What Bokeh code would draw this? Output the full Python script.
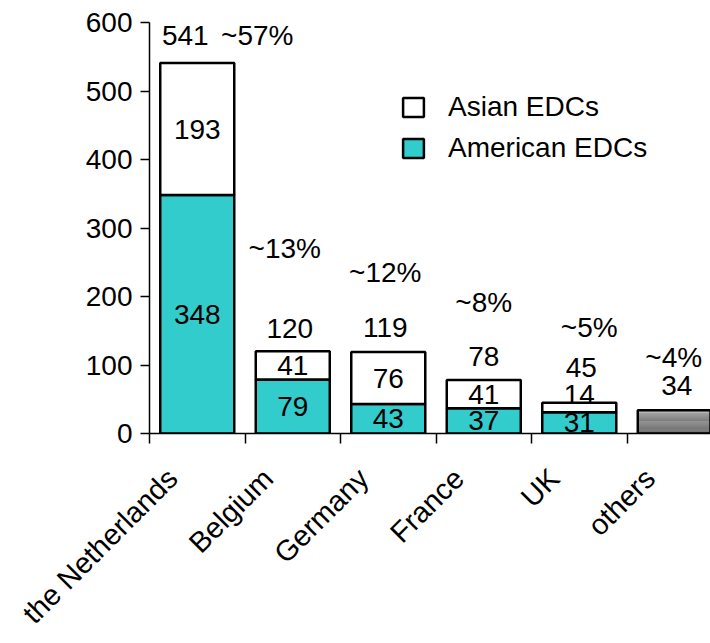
import math
from bokeh.plotting import figure
from bokeh.models import Range1d, FixedTicker, ColumnDataSource, Legend, LegendItem
from bokeh.core.properties import value
from bokeh.embed import file_html
from bokeh.resources import INLINE

# ---- data ----
countries = ["the Netherlands", "Belgium", "Germany", "France", "UK", "others"]
american = [348, 79, 43, 37, 31]
asian = [193, 41, 76, 41, 14]
totals = [541, 120, 119, 78, 45, 34]
shares = ["~57%", "~13%", "~12%", "~8%", "~5%", "~4%"]
y_ticks = [0, 100, 200, 300, 400, 500, 600]

# ---- style constants (pixel offsets for annotations) ----
FONT = "Liberation Sans"
FS = "28px"
XFS = "29px"
TEAL = "#33CCCC"
total_dx = [-12, -3, -3, 0, 2, 2]
total_dy = [-27, -23, -24, -24, -35, -25]
share_dx = [60, -8, -3, 0, 10, -1]
share_dy = [-27, -103, -79, -78, -75, -53]
asian_lbl_dy = [0, 0, 0, 0, -13]
LABEL_SHIFT = 0.26

BAR_W = 0.775
centers = [i + 0.5 for i in range(len(countries))]
bounds = list(range(len(countries) + 1))

p = figure(width=710, height=643, output_backend="svg", toolbar_location=None,
           x_range=Range1d(0, 5.874), y_range=Range1d(0, 600),
           min_border_left=149, min_border_right=0, min_border_top=22,
           min_border_bottom=210)
p.xgrid.visible = False
p.ygrid.visible = False
p.outline_line_color = None
p.background_fill_color = "white"
p.border_fill_color = "white"

n = len(american)
src_am = ColumnDataSource(dict(x=centers[:n], top=american, bottom=[0] * n))
src_as = ColumnDataSource(dict(x=centers[:n],
                               top=[a + b for a, b in zip(american, asian)],
                               bottom=american))
r_am = p.vbar(x="x", top="top", bottom="bottom", width=BAR_W, source=src_am,
              fill_color=TEAL, line_color="black", line_width=2.5)
r_as = p.vbar(x="x", top="top", bottom="bottom", width=BAR_W, source=src_as,
              fill_color="white", line_color="black", line_width=2.5)

# "others" bar with a vertical grey gradient
oth = totals[-1]
ns = 24
gx, gb, gt, gc = [], [], [], []
for k in range(ns):
    f = (k + 0.5) / ns
    c = int(0x40 + (0xb0 - 0x40) * f)
    gx.append(centers[-1]); gb.append(oth * k / ns); gt.append(oth * (k + 1) / ns)
    gc.append("#%02x%02x%02x" % (c, c, c))
p.vbar(x=gx, top=gt, bottom=gb, width=BAR_W, fill_color=gc, line_color=None)
p.vbar(x=[centers[-1]], top=[oth], bottom=[0], width=BAR_W, fill_color=None,
       line_color="black", line_width=2.5)

txt = dict(text_font=value(FONT), text_font_size=FS, text_align="center",
           text_baseline="middle", text_color="black")
# segment labels
p.text(x=centers[:n], y=[a / 2 for a in american], text=[str(a) for a in american], **txt)
p.text(x=centers[:n], y=[a + b / 2 for a, b in zip(american, asian)],
       text=[str(b) for b in asian], y_offset=asian_lbl_dy, **txt)
# totals and shares
p.text(x=centers, y=totals, text=[str(t) for t in totals], x_offset=total_dx,
       y_offset=total_dy, **txt)
p.text(x=centers, y=totals, text=shares, x_offset=share_dx, y_offset=share_dy, **txt)

# axes
yax = p.yaxis[0]
yax.ticker = FixedTicker(ticks=y_ticks)
yax.axis_line_color = "black"
yax.axis_line_width = 1.5
yax.major_tick_line_width = 1.5
yax.major_tick_in = 0
yax.major_tick_out = 9
yax.minor_tick_line_color = None
yax.major_label_text_font = FONT
yax.major_label_text_font_size = FS
yax.major_label_text_color = "black"
yax.major_label_standoff = 8

xax = p.xaxis[0]
label_pos = [c - LABEL_SHIFT for c in centers]
xax.ticker = FixedTicker(ticks=label_pos, minor_ticks=bounds)
xax.major_label_overrides = {c: name for c, name in zip(label_pos, countries)}
xax.axis_line_color = "black"
xax.axis_line_width = 1.5
xax.major_tick_in = 0
xax.major_tick_out = 0
xax.minor_tick_in = 0
xax.minor_tick_out = 10
xax.minor_tick_line_width = 1.5
xax.minor_tick_line_color = "black"
xax.major_label_orientation = math.pi / 4
xax.major_label_text_font = FONT
xax.major_label_text_font_size = XFS
xax.major_label_text_color = "black"
xax.major_label_standoff = 30

legend = Legend(items=[LegendItem(label="Asian EDCs", renderers=[r_as]),
                       LegendItem(label="American EDCs", renderers=[r_am])],
                location=(251, 269), orientation="vertical")
legend.label_text_font = FONT
legend.label_text_font_size = FS
legend.label_text_color = "black"
legend.glyph_width = 26
legend.glyph_height = 24
legend.label_standoff = 22
legend.spacing = 9
legend.padding = 0
legend.margin = 0
legend.border_line_alpha = 0
legend.background_fill_alpha = 0
p.add_layout(legend, "center")

open("out.html", "w").write(file_html(p, INLINE))
